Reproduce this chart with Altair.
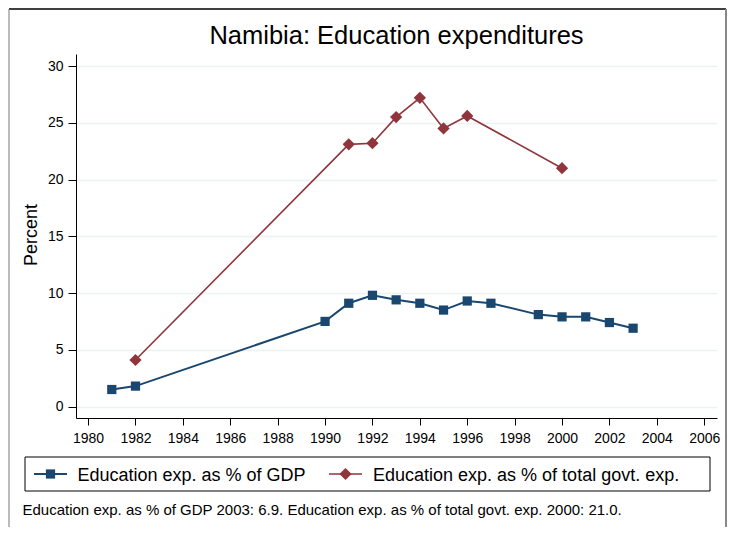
import altair as alt
import pandas as pd

# ---------------- data ----------------
title_text = "Namibia: Education expenditures"
y_title = "Percent"
series_names = ["Education exp. as % of GDP", "Education exp. as % of total govt. exp."]

gdp_years = [1981, 1982, 1990, 1991, 1992, 1993, 1994, 1995, 1996, 1997, 1999, 2000, 2001, 2002, 2003]
gdp_values = [1.5, 1.8, 7.5, 9.1, 9.8, 9.4, 9.1, 8.5, 9.3, 9.1, 8.1, 7.9, 7.9, 7.4, 6.9]

govt_years = [1982, 1991, 1992, 1993, 1994, 1995, 1996, 2000]
govt_values = [4.1, 23.1, 23.2, 25.5, 27.2, 24.5, 25.6, 21.0]

x_ticks = list(range(1980, 2007, 2))
y_ticks = [0, 5, 10, 15, 20, 25, 30]
note_text = ("Education exp. as % of GDP 2003: 6.9. "
             "Education exp. as % of total govt. exp. 2000: 21.0.")

# ---------------- style ----------------
NAVY = "#1A476F"
MAROON = "#90353B"
GRID = "#EAF2F3"
FONT = "Liberation Sans"
W, H = 641, 364
PAD = {"left": 68, "top": 46, "right": 11, "bottom": 109}

df = pd.concat([
    pd.DataFrame({"year": gdp_years, "value": gdp_values, "series": series_names[0]}),
    pd.DataFrame({"year": govt_years, "value": govt_values, "series": series_names[1]}),
], ignore_index=True)

x_enc = alt.X("year:Q",
              scale=alt.Scale(domain=[1979.49, 2006.54], nice=False, zero=False),
              axis=alt.Axis(values=x_ticks, format="d", grid=False, title=None,
                            labelFont=FONT, labelFontSize=14, labelColor="#000",
                            domainColor="#000", tickColor="#000", tickSize=7,
                            labelPadding=6, labelFlush=False))
y_enc = alt.Y("value:Q",
              scale=alt.Scale(domain=[-1.01, 31.06], nice=False, zero=False),
              axis=alt.Axis(values=y_ticks, grid=True, gridColor=GRID, gridWidth=1.5,
                            title=None, labelFont=FONT, labelFontSize=14, labelColor="#000",
                            domainColor="#000", tickColor="#000", tickSize=8,
                            labelPadding=5))
color_enc = alt.Color("series:N", scale=alt.Scale(domain=series_names, range=[NAVY, MAROON]),
                      legend=None)

lines = alt.Chart(df).mark_line().encode(
    x=x_enc, y=y_enc, color=color_enc,
    strokeWidth=alt.StrokeWidth("series:N", scale=alt.Scale(domain=series_names, range=[2, 1.6]),
                                legend=None),
)
points = alt.Chart(df).mark_point(filled=True, opacity=1).encode(
    x=x_enc, y=y_enc, color=color_enc,
    shape=alt.Shape("series:N", scale=alt.Scale(domain=series_names, range=["square", "diamond"]),
                    legend=None),
    size=alt.Size("series:N", scale=alt.Scale(domain=series_names, range=[85, 150]), legend=None),
)

dummy = pd.DataFrame({"k": [0]})


def txt(text, x, y, size, align="left", angle=0):
    return alt.Chart(dummy).mark_text(
        text=text, font=FONT, fontSize=size, align=align, baseline="alphabetic",
        angle=angle, color="#000"
    ).encode(x=alt.value(x), y=alt.value(y))


def hrule(x1, x2, y, color, width):
    return alt.Chart(dummy).mark_rule(color=color, strokeWidth=width).encode(
        x=alt.value(x1), x2=alt.value(x2), y=alt.value(y))


def vrule(x, y1, y2, color, width):
    return alt.Chart(dummy).mark_rule(color=color, strokeWidth=width).encode(
        x=alt.value(x), y=alt.value(y1), y2=alt.value(y2))


# outer frame (top, left, right)
frame = [
    hrule(-67, W + PAD["right"] - 2, -45, "#000", 1.5),
    vrule(-67, -45, H + PAD["bottom"] + 20, "#777", 1),
    vrule(W + PAD["right"] - 2, -45, H + PAD["bottom"] + 20, "#888", 2),
]

# legend box
legend_box = alt.Chart(dummy).mark_rect(fill="white", fillOpacity=0, stroke="#000",
                                         strokeWidth=1).encode(
    x=alt.value(-51), x2=alt.value(634), y=alt.value(403), y2=alt.value(437))


def legend_item(label, color, shape, size, width, x0, tx):
    line = alt.Chart(dummy).mark_rule(color=color, strokeWidth=width).encode(
        x=alt.value(x0), x2=alt.value(x0 + 33), y=alt.value(420))
    mk = alt.Chart(dummy).mark_point(filled=True, opacity=1, shape=shape, size=size,
                                     color=color).encode(
        x=alt.value(x0 + 16.5), y=alt.value(420))
    return [line, mk, txt(label, tx, 427, 18)]


legend_layers = (legend_item(series_names[0], NAVY, "square", 85, 2, -42, 1.5)
                 + legend_item(series_names[1], MAROON, "diamond", 150, 1.6, 253, 297))

texts = [
    txt(title_text, W / 2 - 0.5 + 0.5, -9.7, 25.5, align="center"),
    txt(y_title, -39.3, H / 2 - 1, 18, align="center", angle=270),
    txt(note_text, -53.5, 461, 15),
]

chart = alt.layer(
    *frame, lines, points, legend_box, *legend_layers, *texts
).properties(
    width=W, height=H,
    autosize=alt.AutoSizeParams(type="none"),
    padding=PAD,
    background="white",
).configure_view(stroke=None)

chart.save("out.html", embed_options={"renderer": "svg", "actions": False})
